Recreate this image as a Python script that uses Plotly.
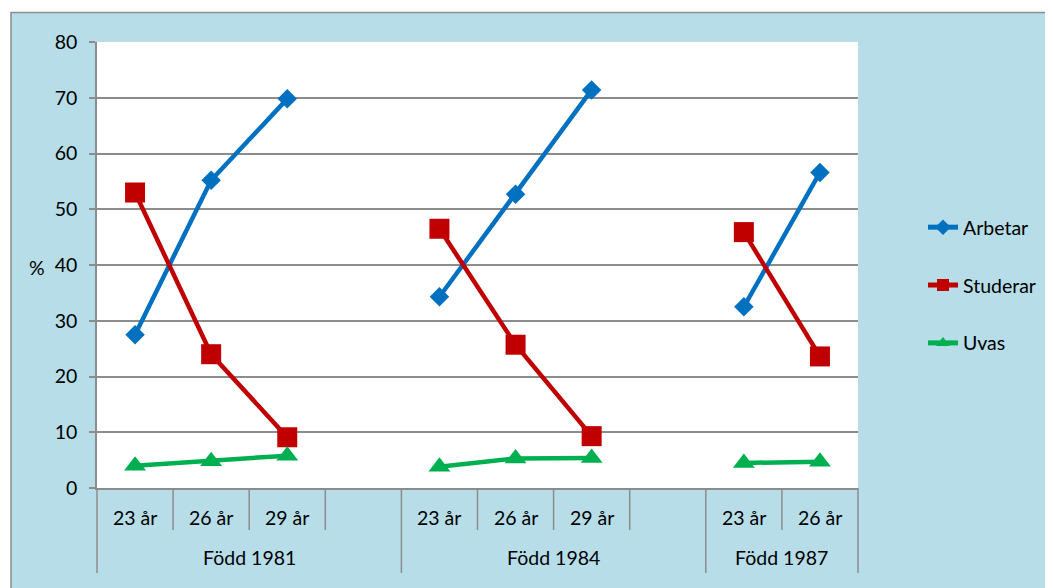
import plotly.graph_objects as go

# ---- data ----
groups = ["Född 1981", "Född 1984", "Född 1987"]
group_slots = [4, 4, 2]                      # number of category slots per group
slot_labels = ["23 år", "26 år", "29 år", "",
               "23 år", "26 år", "29 år", "",
               "23 år", "26 år"]
arbetar = [27.5, 55.2, 69.8, None, 34.3, 52.7, 71.4, None, 32.5, 56.6]
studerar = [53.0, 24.0, 9.1, None, 46.5, 25.7, 9.3, None, 45.9, 23.6]
uvas = [4.0, 4.8, 5.8, None, 3.8, 5.3, 5.4, None, 4.5, 4.7]
y_ticks = [0, 10, 20, 30, 40, 50, 60, 70, 80]

BG = "#B7DDE8"
GRID = "#8C8C8C"
FONT = "Lato"
FS = 19.5

OFF = 8                      # page body margin
W, H = 1045, 580
L, R, T, B = 89, 195, 34, 100
pw, ph = W - L - R, H - T - B

def px_x(px):                # page pixel -> paper x
    return (px - OFF - L) / pw

def px_y(py):                # page pixel -> paper y
    return (H - B - (py - OFF)) / ph

xs = list(range(len(slot_labels)))
n = len(slot_labels)

fig = go.Figure()
series = [("Arbetar", arbetar, "#0070C0", "diamond", 15),
          ("Studerar", studerar, "#C00000", "square", 20),
          ("Uvas", uvas, "#00B050", "triangle-up", 19)]
for name, vals, col, sym, sz in series:
    fig.add_trace(go.Scatter(
        x=xs, y=vals, name=name, mode="lines+markers",
        line=dict(color=col, width=4.5),
        marker=dict(symbol=sym, size=sz, color=col),
        legendgroup=name, connectgaps=False,
    ))

shapes = []
annotations = []
# blue chart area with grey border, white outside
shapes.append(dict(type="rect", xref="paper", yref="paper",
                   x0=px_x(11), x1=px_x(1060), y0=px_y(12.5), y1=px_y(600),
                   line=dict(color="#8C8C8C", width=1.5), fillcolor=BG, layer="below"))
shapes.append(dict(type="rect", xref="x domain", yref="y domain",
                   x0=0, x1=1, y0=0, y1=1, line=dict(width=0),
                   fillcolor="white", layer="below"))

# category dividers
row1 = px_y(530)
row2 = px_y(573)
boundaries_full = {0}
acc = 0
for s in group_slots:
    acc += s
    boundaries_full.add(acc)
for k in range(n + 1):
    xp = k / n
    shapes.append(dict(type="line", xref="paper", yref="paper",
                       x0=xp, x1=xp, y0=0, y1=row2 if k in boundaries_full else row1,
                       line=dict(color=GRID, width=1.5)))

# sub labels
for i, lab in enumerate(slot_labels):
    if lab:
        annotations.append(dict(x=i, y=px_y(517), xref="x", yref="paper",
                                xanchor="center", yanchor="middle",
                                text=lab, showarrow=False,
                                font=dict(size=FS, color="black", family=FONT)))
# group labels
start = 0
for g, s in zip(groups, group_slots):
    cx = start + (s - 1) / 2
    annotations.append(dict(x=cx, y=px_y(557), xref="x", yref="paper",
                            xanchor="center", yanchor="middle",
                            text=g, showarrow=False,
                            font=dict(size=FS, color="black", family=FONT)))
    start += s

annotations.append(dict(x=px_x(37), y=px_y(267), xref="paper", yref="paper",
                        xanchor="center", yanchor="middle",
                        text="%", showarrow=False,
                        font=dict(size=FS, color="black", family=FONT)))

fig.update_layout(
    width=W, height=H,
    margin=dict(l=L, r=R, t=T, b=B, pad=0),
    paper_bgcolor="white", plot_bgcolor="white",
    font=dict(family=FONT, size=FS, color="black"),
    shapes=shapes, annotations=annotations,
    showlegend=True,
    legend=dict(x=px_x(923), y=px_y(208), xanchor="left", yanchor="top",
                bgcolor="rgba(0,0,0,0)", font=dict(size=FS, family=FONT),
                tracegroupgap=29.5, itemsizing="constant", traceorder="grouped"),
    xaxis=dict(range=[-0.5, n - 0.5], showgrid=False, zeroline=False,
               showticklabels=False, ticks="", showline=True, linecolor=GRID,
               linewidth=1.5, mirror=False, fixedrange=True),
    yaxis=dict(range=[0, 80], tickvals=y_ticks, showgrid=True, gridcolor=GRID,
               gridwidth=1.5, zeroline=False, showline=True, linecolor=GRID,
               linewidth=1.5, ticks="outside", ticklen=6, tickcolor=GRID,
               tickwidth=1.5, ticklabelstandoff=8,
               tickfont=dict(size=FS, family=FONT), fixedrange=True),
)

fig.write_html("out.html")
